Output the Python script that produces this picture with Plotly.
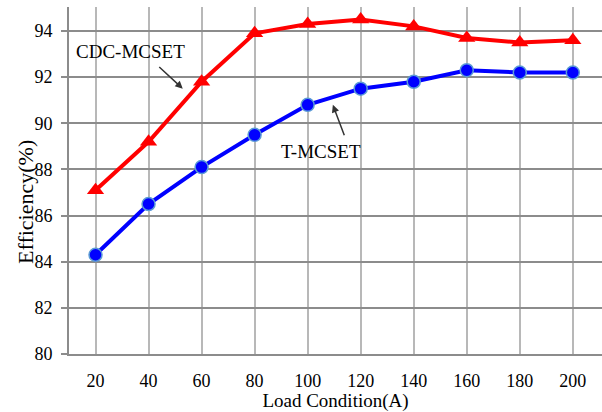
import plotly.graph_objects as go

load = [20, 40, 60, 80, 100, 120, 140, 160, 180, 200]
cdc_mcset = [87.1, 89.2, 91.8, 93.9, 94.3, 94.5, 94.2, 93.7, 93.5, 93.6]
t_mcset = [84.3, 86.5, 88.1, 89.5, 90.8, 91.5, 91.8, 92.3, 92.2, 92.2]
x_ticks = [20, 40, 60, 80, 100, 120, 140, 160, 180, 200]
y_ticks = [80, 82, 84, 86, 88, 90, 92, 94]

FONT = "Liberation Serif, Times New Roman, serif"

fig = go.Figure()
fig.add_trace(go.Scatter(
    x=load, y=t_mcset, mode="lines+markers", name="T-MCSET",
    line=dict(color="#0000ff", width=4),
    marker=dict(symbol="circle", size=13, color="#0000ff",
                line=dict(color="#5b9bd5", width=1.5)),
))
fig.add_trace(go.Scatter(
    x=load, y=cdc_mcset, mode="lines+markers", name="CDC-MCSET",
    line=dict(color="#ff0000", width=4),
    marker=dict(symbol="triangle-up", size=15, color="#ff0000"),
))

fig.add_annotation(x=33.2, y=93.1, text="CDC-MCSET", showarrow=False,
                   font=dict(family=FONT, size=19, color="#000"))
fig.add_annotation(x=52.9, y=91.5, ax=-25, ay=-23, text="", showarrow=True,
                   arrowhead=2, arrowsize=1, arrowwidth=1.5, arrowcolor="#333")
fig.add_annotation(x=105.1, y=88.76, text="T-MCSET", showarrow=False,
                   font=dict(family=FONT, size=19, color="#000"))
fig.add_annotation(x=109.5, y=90.8, ax=12, ay=32, text="", showarrow=True,
                   arrowhead=2, arrowsize=1, arrowwidth=1.5, arrowcolor="#333")
# y-axis title placed as annotation (offset lower than plot centre, like the reference)
fig.add_annotation(xref="paper", yref="paper", x=-0.0826, y=0.438,
                   xanchor="center", yanchor="middle", textangle=-90,
                   text="Efficiency(%)", showarrow=False,
                   font=dict(family=FONT, size=22, color="#000"))

fig.update_layout(
    width=602, height=412,
    margin=dict(l=69, r=0, t=7, b=58),
    paper_bgcolor="white", plot_bgcolor="white",
    showlegend=False,
    font=dict(family=FONT, size=18, color="#000"),
)
fig.update_xaxes(
    range=[10, 211], tickvals=x_ticks, ticktext=[str(v) for v in x_ticks],
    showgrid=True, gridcolor="#b8b8b8", gridwidth=1.5,
    showline=True, linecolor="#8c8c8c", linewidth=2,
    ticks="", ticklabelstandoff=9, zeroline=False,
    title=dict(text="Load Condition(A)", font=dict(family=FONT, size=19), standoff=1),
)
fig.update_yaxes(
    range=[80, 95.04], tickvals=y_ticks, ticktext=[str(v) for v in y_ticks],
    showgrid=True, gridcolor="#8c8c8c", gridwidth=2,
    showline=True, linecolor="#8c8c8c", linewidth=2,
    ticks="outside", ticklen=6, tickcolor="#8c8c8c", tickwidth=2,
    ticklabelstandoff=5, zeroline=False,
)

fig.write_html("out.html")
